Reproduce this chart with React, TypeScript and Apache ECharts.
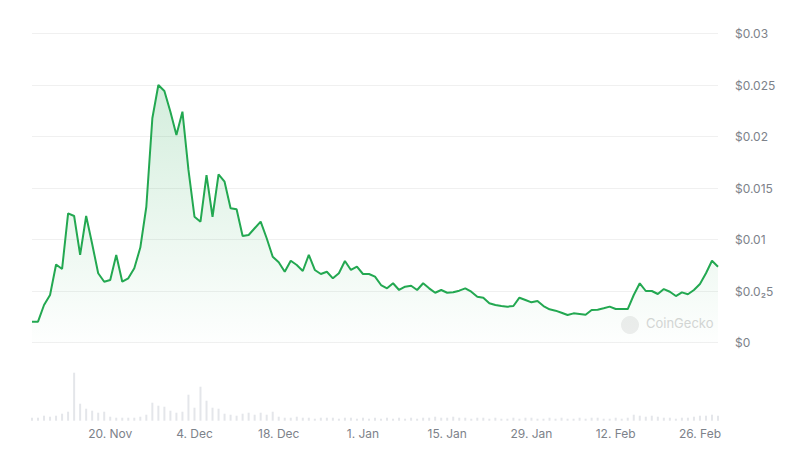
import React, { useEffect, useRef } from "react";
import * as echarts from "echarts";

// Daily categories, 7 Nov 2023 .. 29 Feb 2024
const START = Date.UTC(2023, 10, 7);
const DAY_COUNT = 115;
const dates: string[] = [];
for (let i = 0; i < DAY_COUNT; i++) {
  dates.push(new Date(START + i * 86400000).toISOString().slice(0, 10));
}

const tickDates = [
  "2023-11-20",
  "2023-12-04",
  "2023-12-18",
  "2024-01-01",
  "2024-01-15",
  "2024-01-29",
  "2024-02-12",
  "2024-02-26",
];

const monthNames = ["Jan", "Feb", "Mar", "Apr", "May", "Jun", "Jul", "Aug", "Sep", "Oct", "Nov", "Dec"];

const priceTicks = [0, 0.005, 0.01, 0.015, 0.02, 0.025, 0.03];
const priceTickLabels = ["$0", "$0.0₂5", "$0.01", "$0.015", "$0.02", "$0.025", "$0.03"];

const price = [
  0.00202, 0.00202, 0.00364, 0.00461, 0.00757, 0.00714, 0.01254, 0.01228, 0.0085, 0.01228,
  0.00956, 0.00672, 0.0059, 0.00607, 0.0085, 0.0059, 0.00623, 0.0072, 0.00922, 0.01318,
  0.02177, 0.025, 0.02442, 0.02241, 0.02015, 0.02241, 0.01675, 0.01221, 0.01173, 0.01626,
  0.01221, 0.01633, 0.01561, 0.01303, 0.01293, 0.01034, 0.01044, 0.01109, 0.01173, 0.01012,
  0.00833, 0.00779, 0.00687, 0.00794, 0.00752, 0.00694, 0.0085, 0.00704, 0.00665, 0.00687,
  0.00623, 0.00672, 0.00791, 0.00704, 0.00736, 0.00665, 0.00665, 0.00639, 0.00558, 0.00526,
  0.00575, 0.0051, 0.00542, 0.00551, 0.0051, 0.00575, 0.00526, 0.00483, 0.0051, 0.00483,
  0.00487, 0.00503, 0.00526, 0.00493, 0.00445, 0.00435, 0.00381, 0.00364, 0.00354, 0.00348,
  0.00354, 0.00435, 0.00413, 0.0039, 0.00403, 0.00354, 0.00322, 0.00309, 0.00289, 0.00267,
  0.00283, 0.00277, 0.0027, 0.00316, 0.00318, 0.00332, 0.00348, 0.00325, 0.00325, 0.00325,
  0.00461, 0.00575, 0.005, 0.005, 0.00471, 0.00519, 0.00493, 0.00451, 0.00487, 0.00468,
  0.0051, 0.00568, 0.00672, 0.00794, 0.00736,
];

const volume = [
  3, 3, 5, 4, 5, 7, 9, 48, 17, 12,
  10, 8, 9, 4, 3, 3, 3, 3, 4, 6,
  18, 15, 14, 10, 8, 9, 26, 13, 34, 20,
  13, 12, 7, 6, 5, 7, 8, 6, 8, 6,
  9, 4, 3, 3, 4, 3, 3, 2, 3, 3,
  3, 2, 3, 3, 2, 3, 2, 3, 2, 3,
  2, 3, 2, 3, 2, 3, 3, 4, 3, 3,
  4, 3, 3, 2, 3, 3, 2, 3, 2, 2,
  3, 2, 3, 3, 2, 2, 3, 2, 3, 2,
  2, 3, 2, 3, 3, 2, 2, 3, 2, 3,
  6, 5, 4, 5, 4, 3, 3, 2, 3, 3,
  4, 5, 5, 6, 5,
];

const FONT = "Inter, 'Noto Sans', sans-serif";
const LABEL_COLOR = "#7d828a";
const GREEN = "#23a851";

export default function App() {
  const ref = useRef<HTMLDivElement>(null);

  useEffect(() => {
    if (!ref.current) return;
    const chart = echarts.init(ref.current, undefined, { renderer: "svg" });
    const gridLeft = 32;
    const gridRight = 82;
    chart.setOption({
      animation: false,
      backgroundColor: "#ffffff",
      grid: [
        { left: gridLeft, right: gridRight, top: 33.5, bottom: 117.5 },
        { left: gridLeft, right: gridRight, top: 360.7, bottom: 39.3 },
      ],
      xAxis: [
        {
          type: "category",
          gridIndex: 0,
          data: dates,
          boundaryGap: false,
          axisLine: { show: false },
          axisTick: { show: false },
          axisLabel: { show: false },
          splitLine: { show: false },
        },
        {
          type: "category",
          gridIndex: 1,
          data: dates,
          boundaryGap: false,
          axisLine: { show: false },
          axisTick: { show: false },
          splitLine: { show: false },
          axisLabel: {
            interval: (_i: number, v: string) => tickDates.includes(v),
            formatter: (v: string) => {
              const d = new Date(v + "T00:00:00Z");
              return d.getUTCDate() + ". " + monthNames[d.getUTCMonth()];
            },
            color: LABEL_COLOR,
            fontFamily: FONT,
            fontSize: 12,
            margin: 7,
          },
        },
      ],
      yAxis: [
        {
          type: "value",
          gridIndex: 0,
          position: "right",
          min: 0,
          max: 0.03,
          interval: 0.005,
          axisLine: { show: false },
          axisTick: { show: false },
          splitLine: { lineStyle: { color: "#f0f0f0", width: 1 } },
          axisLabel: {
            margin: 17,
            color: LABEL_COLOR,
            fontFamily: FONT,
            fontSize: 12,
            verticalAlign: "middle",
            padding: [0, 0, 8, 0],
            formatter: (v: number) => {
              const idx = priceTicks.findIndex((t) => Math.abs(t - v) < 1e-9);
              return idx >= 0 ? priceTickLabels[idx] : "";
            },
          },
        },
        {
          type: "value",
          gridIndex: 1,
          min: 0,
          max: 60,
          show: false,
          splitLine: { show: false },
        },
      ],
      graphic: [
        {
          type: "circle",
          shape: { cx: 630, cy: 325, r: 9 },
          style: { fill: "#eeeeee" },
          silent: true,
        },
        {
          type: "text",
          x: 646,
          y: 323,
          style: {
            text: "CoinGecko",
            fill: "#d6d6d6",
            font: "13px " + FONT,
            verticalAlign: "middle",
          },
          silent: true,
        },
      ],
      series: [
        {
          type: "line",
          xAxisIndex: 0,
          yAxisIndex: 0,
          data: price,
          showSymbol: false,
          symbol: "none",
          lineStyle: { color: GREEN, width: 2 },
          areaStyle: {
            color: new echarts.graphic.LinearGradient(0, 0, 0, 1, [
              { offset: 0, color: "rgba(35,168,81,0.28)" },
              { offset: 1, color: "rgba(35,168,81,0.01)" },
            ]),
            origin: "start",
          },
        },
        {
          type: "bar",
          xAxisIndex: 1,
          yAxisIndex: 1,
          data: volume,
          barWidth: 2,
          itemStyle: { color: "#e4e6ea" },
        },
      ],
    });
    return () => chart.dispose();
  }, []);

  return (
    <div
      ref={ref}
      style={{ position: "fixed", left: 0, top: 0, width: 800, height: 460 }}
    />
  );
}
